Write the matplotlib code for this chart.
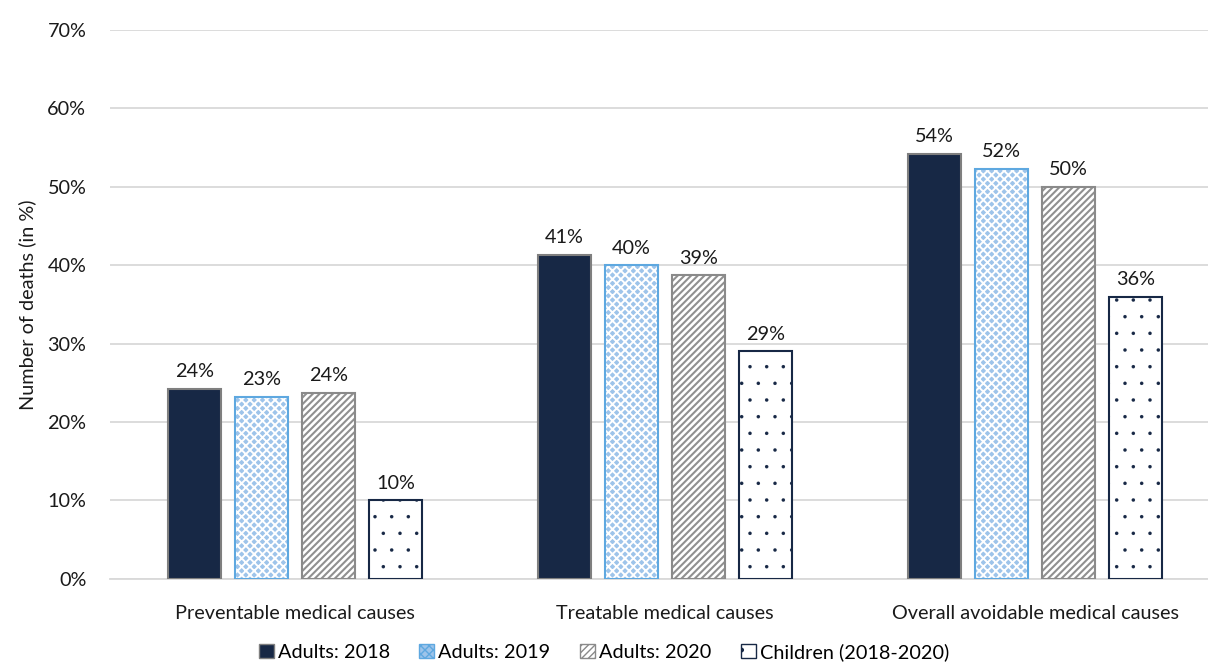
import matplotlib
matplotlib.use("Agg")
import matplotlib.pyplot as plt
import numpy as np
from matplotlib.patches import Patch
from matplotlib.ticker import FuncFormatter

plt.rcParams['font.family'] = ['Lato', 'DejaVu Sans']

categories = ["Preventable medical causes", "Treatable medical causes",
              "Overall avoidable medical causes"]
series_names = ["Adults: 2018", "Adults: 2019", "Adults: 2020", "Children (2018-2020)"]
adults_2018 = [24.2, 41.3, 54.2]
adults_2019 = [23.2, 40.0, 52.3]
adults_2020 = [23.7, 38.7, 50.0]
children = [10.0, 29.0, 36.0]
y_ticks = [0, 10, 20, 30, 40, 50, 60, 70]

FS = 14.3
TXT = "#1a1a1a"

fig = plt.figure(figsize=(12.08, 6.66), dpi=100)
ax = fig.add_axes([0.091, 0.131, 0.919, 0.824])

x = np.arange(len(categories))
w = 0.145
step = 0.181
offsets = np.array([-1.5, -0.5, 0.5, 1.5]) * step

styles = [
    dict(face="#172845", hatch=None, hcol=None, edge="#7f7f7f", hlw=1.0),
    dict(face="#9ec4ea", hatch="xxxx", hcol="white", edge="#5ea8e0", hlw=1.4),
    dict(face="white", hatch="/////", hcol="#909090", edge="#8a8a8a", hlw=1.5),
    dict(face="white", hatch=".", hcol="#172845", edge="#172845", hlw=0.1),
]
data = [adults_2018, adults_2019, adults_2020, children]


def set_hlw(container, lw):
    for p in container:
        if hasattr(p, "set_hatch_linewidth"):
            p.set_hatch_linewidth(lw)


for vals, off, st in zip(data, offsets, styles):
    pos = x + off
    plt.rcParams['hatch.linewidth'] = st["hlw"]
    if st["hatch"]:
        bars = ax.bar(pos, vals, w, color=st["face"], hatch=st["hatch"],
                      edgecolor=st["hcol"], linewidth=0, zorder=3)
        set_hlw(bars, st["hlw"])
    else:
        ax.bar(pos, vals, w, color=st["face"], linewidth=0, zorder=3)
    ax.bar(pos, vals, w, fill=False, edgecolor=st["edge"], linewidth=1.5, zorder=4)
    for px, v in zip(pos, vals):
        ax.text(px, v + 1.1, f"{v:.0f}%", ha="center", va="bottom",
                fontsize=FS, color=TXT)

ax.set_ylim(0, 70)
ax.set_xlim(-0.5, 2.5)
ax.set_yticks(y_ticks)
ax.yaxis.set_major_formatter(FuncFormatter(lambda v, p: f"{v:.0f}%"))
ax.set_xticks(x)
ax.set_xticklabels(categories)
ax.tick_params(axis="both", length=0, labelsize=FS, colors=TXT)
ax.tick_params(axis="y", pad=17)
ax.tick_params(axis="x", pad=19)
ax.grid(axis="y", color="#d9d9d9", linewidth=1.3, zorder=0)
for s in ["top", "right", "left"]:
    ax.spines[s].set_visible(False)
ax.spines["bottom"].set_color("#d9d9d9")
ax.spines["bottom"].set_linewidth(1.3)
ax.set_ylabel("Number of deaths (in %)", fontsize=FS, color=TXT, labelpad=8)

plt.rcParams['hatch.linewidth'] = 1.0
handles = []
for name, st in zip(series_names, styles):
    handles.append(Patch(facecolor=st["face"], hatch=st["hatch"],
                         edgecolor=st["edge"], linewidth=1, label=name))
fig.legend(handles=handles, loc="center", bbox_to_anchor=(0.5, 0.021), ncol=4,
           frameon=False, fontsize=FS, handlelength=0.75, handleheight=0.75,
           handletextpad=0.2, columnspacing=1.5)

fig.savefig("out.png", dpi=100)
